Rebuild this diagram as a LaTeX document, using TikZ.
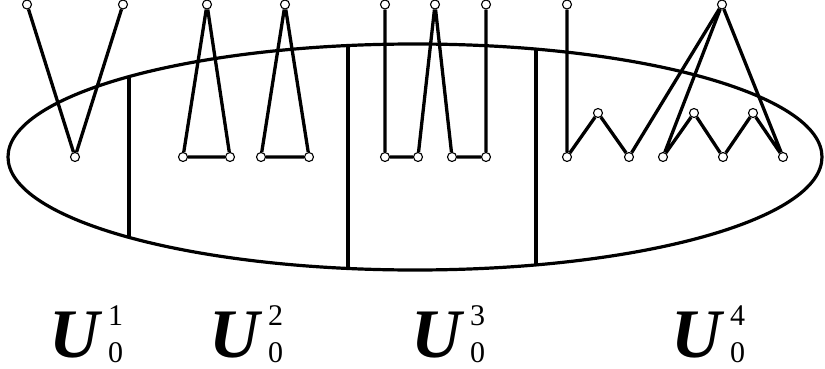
\documentclass[tikz,border=0pt]{standalone}
\usepackage{fontspec}
\setmainfont{Liberation Serif}
\begin{document}
\begin{tikzpicture}[x=1pt,y=-1pt,
  vtx/.style={circle,draw,fill=white,line width=1.1pt,inner sep=0pt,minimum size=9pt},
  edge/.style={line width=3.3pt},
  outline/.style={line width=3.2pt},
  ubig/.style={inner sep=0pt,anchor=base west,font=\fontsize{69.5}{70}\selectfont\bfseries\itshape},
  idx/.style={inner sep=0pt,anchor=base west,font=\fontsize{30}{30}\selectfont}]
\useasboundingbox (0,0) rectangle (825,369);
% big ellipse
\draw[outline] (415,157) ellipse [x radius=407, y radius=113];
% dividers
\coordinate (p1t) at (129,{157-113*sqrt(1-((129-415)/407)^2)});
\coordinate (p1b) at (129,{157+113*sqrt(1-((129-415)/407)^2)});
\coordinate (p2t) at (348,{157-113*sqrt(1-((348-415)/407)^2)});
\coordinate (p2b) at (348,{157+113*sqrt(1-((348-415)/407)^2)});
\coordinate (p3t) at (536,{157-113*sqrt(1-((536-415)/407)^2)});
\coordinate (p3b) at (536,{157+113*sqrt(1-((536-415)/407)^2)});
\draw[outline] (p1t) -- (p1b);
\draw[outline] (p2t) -- (p2b);
\draw[outline] (p3t) -- (p3b);
% group 1
\node[vtx] (a1) at (27,4.5) {};
\node[vtx] (a2) at (123,4.5) {};
\node[vtx] (a3) at (75,157) {};
% group 2
\node[vtx] (b1) at (207,4.5) {};
\node[vtx] (b2) at (183,157) {};
\node[vtx] (b3) at (230,157) {};
\node[vtx] (c1) at (285,4.5) {};
\node[vtx] (c2) at (261,157) {};
\node[vtx] (c3) at (309,157) {};
% group 3
\node[vtx] (d1) at (385,4.5) {};
\node[vtx] (d2) at (435,4.5) {};
\node[vtx] (d3) at (486,4.5) {};
\node[vtx] (e1) at (385,157) {};
\node[vtx] (e2) at (418,157) {};
\node[vtx] (e3) at (452,157) {};
\node[vtx] (e4) at (486,157) {};
% group 4
\node[vtx] (f1) at (567,4.5) {};
\node[vtx] (f2) at (722,4.5) {};
\node[vtx] (g1) at (567,157) {};
\node[vtx] (h1) at (598,113) {};
\node[vtx] (g2) at (629,157) {};
\node[vtx] (g3) at (663,157) {};
\node[vtx] (h2) at (694,113) {};
\node[vtx] (g4) at (723,157) {};
\node[vtx] (h3) at (753,113) {};
\node[vtx] (g5) at (783,157) {};
% edges
\draw[edge] (a1) -- (a3) -- (a2);
\draw[edge] (b1) -- (b2) -- (b3) -- (b1);
\draw[edge] (c1) -- (c2) -- (c3) -- (c1);
\draw[edge] (d1) -- (e1) -- (e2) -- (d2) -- (e3) -- (e4) -- (d3);
\draw[edge] (f1) -- (g1) -- (h1) -- (g2) -- (f2);
\draw[edge] (f2) -- (g3) -- (h2) -- (g4) -- (h3) -- (g5) -- (f2);
% labels
\node[ubig] (u1) at (49,357) {U};
\node[idx] (s1) at (108,325) {1};
\node[idx] (z1) at (108,362) {0};
\node[ubig] (u2) at (209,357) {U};
\node[idx] (s2) at (268,325) {2};
\node[idx] (z2) at (268,362) {0};
\node[ubig] (u3) at (411,357) {U};
\node[idx] (s3) at (470,325) {3};
\node[idx] (z3) at (470,362) {0};
\node[ubig] (u4) at (671,357) {U};
\node[idx] (s4) at (730,325) {4};
\node[idx] (z4) at (730,362) {0};
\end{tikzpicture}
\end{document}
